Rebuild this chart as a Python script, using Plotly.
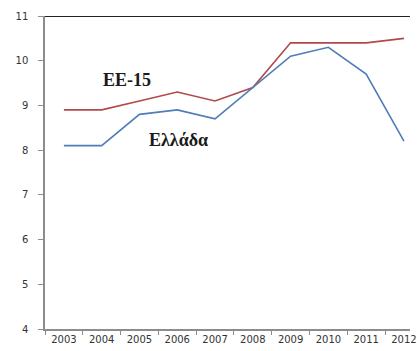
import plotly.graph_objects as go

years = ["2003", "2004", "2005", "2006", "2007", "2008", "2009", "2010", "2011", "2012"]
ee15 = [8.9, 8.9, 9.1, 9.3, 9.1, 9.4, 10.4, 10.4, 10.4, 10.5]
greece = [8.1, 8.1, 8.8, 8.9, 8.7, 9.4, 10.1, 10.3, 9.7, 8.2]
y_ticks = [4, 5, 6, 7, 8, 9, 10, 11]

fig = go.Figure()
fig.add_trace(go.Scatter(x=years, y=ee15, mode="lines",
                         line=dict(color="#B04A4A", width=1.6), name="EE-15"))
fig.add_trace(go.Scatter(x=years, y=greece, mode="lines",
                         line=dict(color="#4F7DB8", width=1.6), name="Ελλάδα"))

# series labels placed next to the lines
fig.add_annotation(x=1.66, y=9.57, text="<b>EE-15</b>", showarrow=False,
                   font=dict(family="Liberation Serif", size=18, color="#1a1a1a"))
fig.add_annotation(x=3.04, y=8.23, text="<b>Ελλάδα</b>", showarrow=False,
                   font=dict(family="Liberation Serif", size=18, color="#1a1a1a"))

# top border line at the axis maximum
fig.add_shape(type="line", xref="paper", yref="y", x0=0, x1=1, y0=11, y1=11,
              line=dict(color="#222222", width=2))

fig.update_layout(
    width=417, height=351,
    margin=dict(l=45, r=0, t=16, b=22),
    paper_bgcolor="white", plot_bgcolor="white",
    showlegend=False,
    xaxis=dict(
        type="category",
        range=[-0.5, 9.16],
        tickson="boundaries",
        ticklabeloverflow="allow",
        showgrid=False, zeroline=False,
        showline=True, linecolor="#8c8c8c", linewidth=1.5,
        ticks="outside", ticklen=4, tickcolor="#8c8c8c",
        tickfont=dict(family="DejaVu Sans", size=10, color="#333333"),
    ),
    yaxis=dict(
        range=[4, 11],
        tickmode="array", tickvals=y_ticks,
        showgrid=False, zeroline=False,
        showline=True, linecolor="#8c8c8c", linewidth=1.5,
        ticks="outside", ticklen=5, tickcolor="#8c8c8c",
        ticklabelstandoff=8,
        tickfont=dict(family="DejaVu Sans", size=10, color="#333333"),
    ),
)

fig.write_html("out.html")
